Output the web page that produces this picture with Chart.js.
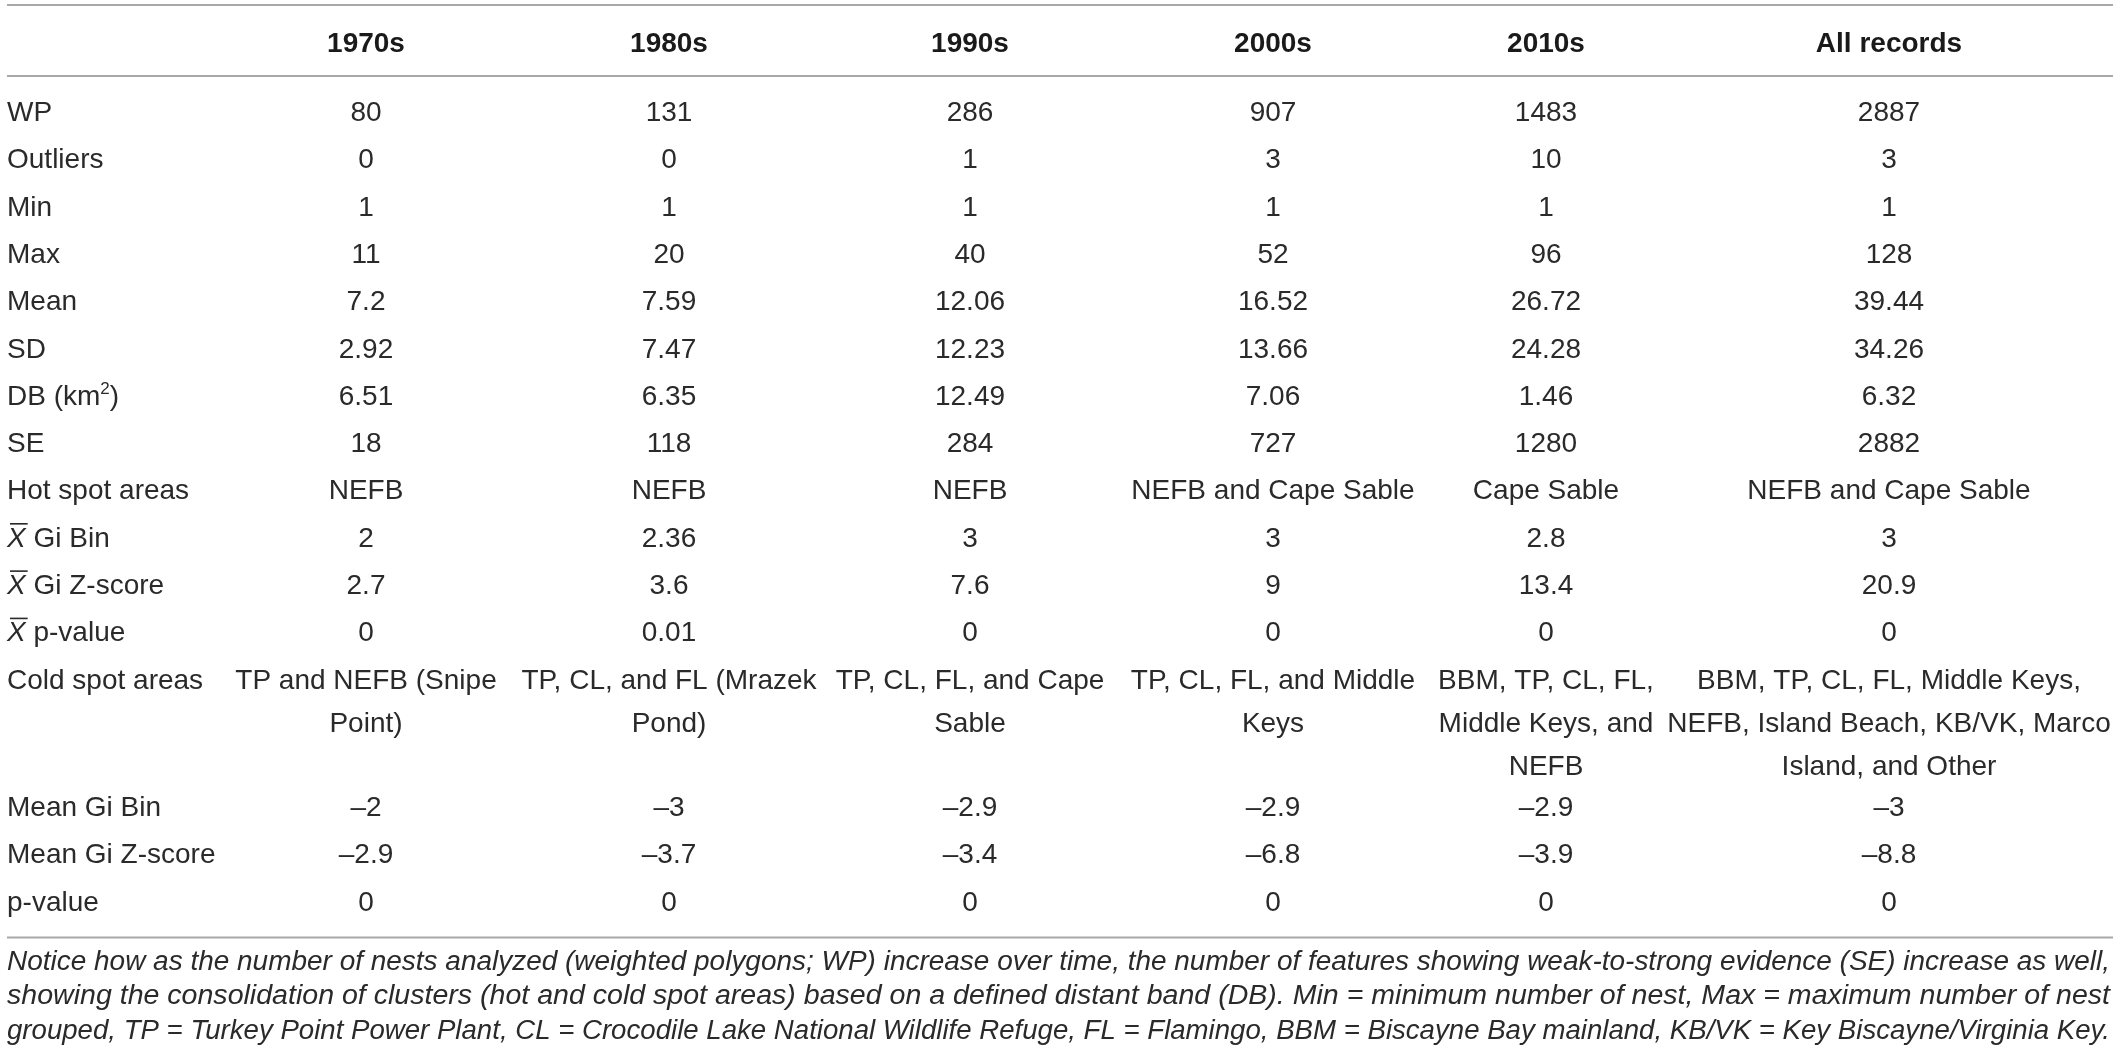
<!DOCTYPE html>
<html>
<head>
<meta charset="utf-8">
<script src="https://cdn.jsdelivr.net/npm/chart.js@4"></script>
<style>
  html, body { margin: 0; padding: 0; background: #ffffff; }
  #wrap { width: 2119px; height: 1060px; position: relative; }
</style>
</head>
<body>
<div id="wrap"><canvas id="c"></canvas></div>
<script>
// ---------------- DATA ----------------
const columns = ['1970s', '1980s', '1990s', '2000s', '2010s', 'All records'];
const rowLabels = ['WP', 'Outliers', 'Min', 'Max', 'Mean', 'SD', 'DB (km²)', 'SE',
  'Hot spot areas', 'X̄ Gi Bin', 'X̄ Gi Z-score', 'X̄ p-value', 'Cold spot areas',
  'Mean Gi Bin', 'Mean Gi Z-score', 'p-value'];
const wp = [80, 131, 286, 907, 1483, 2887];
const outliers = [0, 0, 1, 3, 10, 3];
const minNest = [1, 1, 1, 1, 1, 1];
const maxNest = [11, 20, 40, 52, 96, 128];
const meanNest = [7.2, 7.59, 12.06, 16.52, 26.72, 39.44];
const sdNest = [2.92, 7.47, 12.23, 13.66, 24.28, 34.26];
const distantBand = [6.51, 6.35, 12.49, 7.06, 1.46, 6.32];
const se = [18, 118, 284, 727, 1280, 2882];
const hotSpotAreas = ['NEFB', 'NEFB', 'NEFB', 'NEFB and Cape Sable', 'Cape Sable', 'NEFB and Cape Sable'];
const hotGiBin = [2, 2.36, 3, 3, 2.8, 3];
const hotGiZ = [2.7, 3.6, 7.6, 9, 13.4, 20.9];
const hotP = [0, 0.01, 0, 0, 0, 0];
const coldSpotAreas = [
  ['TP and NEFB (Snipe', 'Point)'],
  ['TP, CL, and FL (Mrazek', 'Pond)'],
  ['TP, CL, FL, and Cape', 'Sable'],
  ['TP, CL, FL, and Middle', 'Keys'],
  ['BBM, TP, CL, FL,', 'Middle Keys, and', 'NEFB'],
  ['BBM, TP, CL, FL, Middle Keys,', 'NEFB, Island Beach, KB/VK, Marco', 'Island, and Other']
];
const coldGiBin = [-2, -3, -2.9, -2.9, -2.9, -3];
const coldGiZ = [-2.9, -3.7, -3.4, -6.8, -3.9, -8.8];
const coldP = [0, 0, 0, 0, 0, 0];
const footnoteLines = [
  'Notice how as the number of nests analyzed (weighted polygons; WP) increase over time, the number of features showing weak-to-strong evidence (SE) increase as well,',
  'showing the consolidation of clusters (hot and cold spot areas) based on a defined distant band (DB). Min = minimum number of nest, Max = maximum number of nest',
  'grouped, TP = Turkey Point Power Plant, CL = Crocodile Lake National Wildlife Refuge, FL = Flamingo, BBM = Biscayne Bay mainland, KB/VK = Key Biscayne/Virginia Key.'
];
const tableRows = [wp, outliers, minNest, maxNest, meanNest, sdNest, distantBand, se,
  hotSpotAreas, hotGiBin, hotGiZ, hotP, coldSpotAreas, coldGiBin, coldGiZ, coldP];

// ---------------- LAYOUT (positions/styles, in scale units) ----------------
const layout = {
  colCenters: [366, 669, 970, 1273, 1546, 1889],
  labelX: 7,
  ruleLeft: 7, ruleRight: 2113,
  topRule: 5, headerY: 42, headerRule: 76,
  firstRowY: 111, rowPitch: 47.3, cellLineGap: 43, extraLineAdvance: 40,
  bottomGap: 37,
  footFirstY: 961, footPitch: 34.5, footRight: 2110,
  font: '"Liberation Sans", Arial, Helvetica, sans-serif',
  size: 28, footSize: 27,
  textColor: '#2a2a2a', headColor: '#1a1a1a', ruleColor: '#a8a8a8'
};

function fmt(v) {
  if (typeof v === 'number') return v < 0 ? '\u2013' + String(-v) : String(v);
  return v;
}

const tablePlugin = {
  id: 'tableDraw',
  beforeDraw(chart) {
    const ctx = chart.ctx;
    ctx.save();
    ctx.fillStyle = '#ffffff';
    ctx.fillRect(0, 0, chart.width, chart.height);
    ctx.restore();
  },
  afterDraw(chart) {
    const ctx = chart.ctx;
    const X = v => chart.scales.x.getPixelForValue(v);
    const Y = v => chart.scales.y.getPixelForValue(v);
    const L = layout;
    const capOff = L.size * 0.36;

    ctx.save();
    // rules
    ctx.strokeStyle = L.ruleColor;
    ctx.lineWidth = 2;
    const rule = y => { ctx.beginPath(); ctx.moveTo(X(L.ruleLeft), Y(y)); ctx.lineTo(X(L.ruleRight), Y(y)); ctx.stroke(); };
    rule(L.topRule);
    rule(L.headerRule);

    // header
    ctx.fillStyle = L.headColor;
    ctx.font = 'bold ' + L.size + 'px ' + L.font;
    ctx.textAlign = 'center';
    ctx.textBaseline = 'alphabetic';
    columns.forEach((c, i) => ctx.fillText(c, X(L.colCenters[i]), Y(L.headerY) + capOff));

    // body rows
    let y = L.firstRowY;
    ctx.fillStyle = L.textColor;
    tableRows.forEach((row, r) => {
      const label = rowLabels[r];
      const base = Y(y) + capOff;
      ctx.textAlign = 'left';
      ctx.font = L.size + 'px ' + L.font;
      let lx = X(L.labelX);
      if (label.startsWith('X̄ ')) {
        ctx.font = 'italic ' + L.size + 'px ' + L.font;
        const w = ctx.measureText('X').width;
        ctx.fillText('X', lx, base);
        ctx.save();
        ctx.strokeStyle = L.textColor; ctx.lineWidth = 1.6;
        ctx.beginPath();
        ctx.moveTo(lx + 3, base - L.size * 0.82);
        ctx.lineTo(lx + w + 2, base - L.size * 0.82);
        ctx.stroke();
        ctx.restore();
        ctx.font = L.size + 'px ' + L.font;
        ctx.fillText(label.slice(2), lx + w, base);
      } else if (label.indexOf('²') >= 0) {
        const parts = label.split('²');
        ctx.fillText(parts[0], lx, base);
        let w = ctx.measureText(parts[0]).width;
        ctx.font = Math.round(L.size * 0.62) + 'px ' + L.font;
        ctx.fillText('2', lx + w, base - L.size * 0.38);
        w += ctx.measureText('2').width;
        ctx.font = L.size + 'px ' + L.font;
        ctx.fillText(parts[1], lx + w, base);
      } else {
        ctx.fillText(label, lx, base);
      }

      ctx.textAlign = 'center';
      ctx.font = L.size + 'px ' + L.font;
      let maxLines = 1;
      row.forEach((v, c) => {
        const lines = Array.isArray(v) ? v : [fmt(v)];
        maxLines = Math.max(maxLines, lines.length);
        lines.forEach((t, k) => ctx.fillText(t, X(L.colCenters[c]), Y(y + k * L.cellLineGap) + capOff));
      });
      y += L.rowPitch + (maxLines - 1) * L.extraLineAdvance;
    });

    const lastRowY = y - L.rowPitch;
    rule(lastRowY + L.bottomGap);

    // footnote
    ctx.font = 'italic ' + L.footSize + 'px ' + L.font;
    ctx.textAlign = 'left';
    const target = X(L.footRight) - X(L.labelX);
    footnoteLines.forEach((t, i) => {
      const w = ctx.measureText(t).width;
      const k = target / w;
      ctx.save();
      ctx.translate(X(L.labelX), Y(L.footFirstY + i * L.footPitch) + L.footSize * 0.33);
      ctx.scale(k, 1);
      ctx.fillText(t, 0, 0);
      ctx.restore();
    });
    ctx.restore();
  }
};

new Chart(document.getElementById('c'), {
  type: 'scatter',
  data: { datasets: [{ data: [], pointRadius: 0 }] },
  options: {
    responsive: true,
    maintainAspectRatio: false,
    animation: false,
    events: [],
    layout: { padding: 0 },
    plugins: { legend: { display: false }, tooltip: { enabled: false } },
    scales: {
      x: { type: 'linear', min: 0, max: 2119, display: false },
      y: { type: 'linear', min: 0, max: 1060, reverse: true, display: false }
    }
  },
  plugins: [tablePlugin]
});
</script>
</body>
</html>
